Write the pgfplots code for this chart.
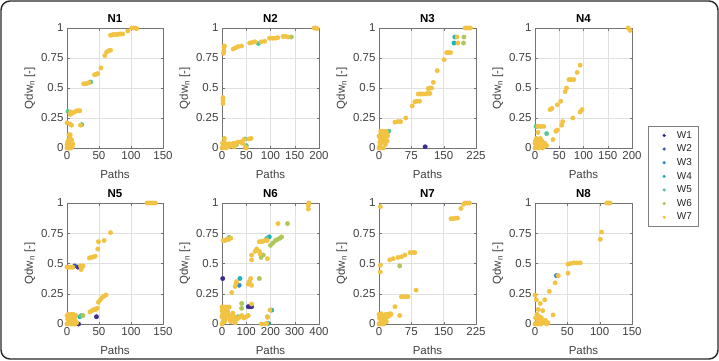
\documentclass[border=0pt]{standalone}
\usepackage{fontspec}
\setmainfont{Liberation Sans}
\usepackage{pgfplots}
\pgfplotsset{compat=1.18}
\definecolor{wA}{rgb}{0.24,0.18,0.55}
\definecolor{wB}{rgb}{0.20,0.35,0.75}
\definecolor{wC}{rgb}{0.20,0.55,0.82}
\definecolor{wD}{rgb}{0.10,0.70,0.75}
\definecolor{wE}{rgb}{0.35,0.78,0.60}
\definecolor{wF}{rgb}{0.68,0.78,0.35}
\definecolor{wG}{rgb}{0.95,0.76,0.26}
\pgfplotsset{
  panel/.style={
    scale only axis, anchor=south west,
    xmin=0, ymin=0, ymax=1,
    ytick={0,0.25,0.5,0.75,1},
    yticklabels={0,0.25,0.5,0.75,1},
    grid=major, grid style={black!12},
    axis line style={black!55},
    tick style={black!55},
    major tick length=2.5pt,
    tick align=inside,
    /pgf/number format/assume math mode=true,
    tick label style={font=\fontsize{11.5}{13}\selectfont, text=black!75},
    label style={font=\fontsize{11.5}{13}\selectfont, text=black!75},
    title style={font=\fontsize{11.5}{13}\selectfont\bfseries, yshift=-4pt},
    xlabel={Paths},
    ylabel={Qdw\textsubscript{n} [-]},
    xlabel style={yshift=-4pt},
    ylabel style={yshift=-1pt},
    clip=false,
  },
  wa/.style={only marks, mark=*, mark size=2.2pt, color=wA, forget plot},
  wb/.style={only marks, mark=*, mark size=2.2pt, color=wB, forget plot},
  wc/.style={only marks, mark=*, mark size=2.2pt, color=wC, forget plot},
  wd/.style={only marks, mark=*, mark size=2.2pt, color=wD, forget plot},
  we/.style={only marks, mark=*, mark size=2.2pt, color=wE, forget plot},
  wf/.style={only marks, mark=*, mark size=2.2pt, color=wF, forget plot},
  wg/.style={only marks, mark=*, mark size=2.2pt, color=wG, forget plot},
}
\begin{document}
\begin{tikzpicture}
\useasboundingbox (0,0) rectangle (719pt,360pt);
\draw[line width=1.4pt, rounded corners=9pt, black!85] (1pt,1pt) rectangle (718pt,359pt);

% ---------------- N1
\begin{axis}[panel, at={(67pt,212pt)}, width=96pt, height=120pt,
  title={N1}, xmax=150, xtick={0,50,100,150}]
\addplot[we] coordinates {(1.5,0.305) (23,0.195) (37,0.55)};
\addplot[wg] coordinates {
(0,0) (1,0.01) (2,0.02) (3,0.03) (4,0.04) (5,0.05) (6,0.06) (2,0.06) (4,0.0) (6,0.02) (8,0.01) (8,0.04) (1,0.05) (3,0.07) (5,0.08) (7,0.07) (9,0.03) (0,0.03) (3,0.0) (6,0.0)
(3,0.11) (5,0.11) (0,0.21) (5,0.2) (7,0.19)
(5,0.28) (8,0.29) (12,0.3) (15,0.31) (18,0.31) (20,0.31) (6,0.3)
(21,0.19)
(26,0.535) (29,0.535) (32,0.54) (34,0.545)
(43,0.61) (46,0.615) (48,0.62) (53,0.667) (59,0.77) (62,0.8) (65,0.81) (68,0.815)
(68,0.94) (72,0.945) (75,0.945) (78,0.945) (81,0.95) (84,0.95) (87,0.95) (95,0.975) (101,1) (104,1) (107,1) (109,0.995)};
\end{axis}

% ---------------- N2
\begin{axis}[panel, at={(222pt,212pt)}, width=97pt, height=120pt,
  title={N2}, xmax=200, xtick={0,50,100,150,200}]
\addplot[we] coordinates {(75,0.87) (47,0.075) (50,0.02)};
\addplot[wf] coordinates {(143,0.925) (30,0.03)};
\addplot[wg] coordinates {
(3,0.79) (4,0.81) (4,0.84) (5,0.85) (2,0.37) (2,0.40) (2,0.42)
(23,0.825) (28,0.835) (33,0.845) (40,0.85)
(57,0.875) (62,0.88) (68,0.885) (81,0.885) (88,0.89)
(98,0.915) (104,0.915) (110,0.915) (115,0.92) (126,0.93) (131,0.93) (136,0.925)
(190,1) (193,1) (196,0.995)
(0,0) (2,0.01) (4,0.02) (6,0.03) (8,0.0) (1,0.04) (3,0.035) (5,0.05) (10,0.02) (12,0.03) (15,0.035) (18,0.02) (20,0.03) (24,0.04) (28,0.04) (33,0.05) (38,0.05) (42,0.04) (5,0.08) (45,0.07) (55,0.075) (60,0.08) (50,0.0) (48,0.01) (14,0.01) (25,0.01)};
\end{axis}

% ---------------- N3
\begin{axis}[panel, at={(379pt,212pt)}, width=97pt, height=120pt,
  title={N3}, xmax=225, xtick={0,75,150,225}]
\addplot[wa] coordinates {(107,0.01)};
\addplot[wd] coordinates {(176,0.925) (174,0.875)};
\addplot[we] coordinates {(23,0.14)};
\addplot[wf] coordinates {(196,0.875) (197,0.925)};
\addplot[wg] coordinates {
(0,0) (2,0.02) (4,0.04) (6,0.06) (8,0.08) (10,0.1) (12,0.12) (14,0.13) (16,0.14) (18,0.12) (20,0.1) (3,0.08) (5,0.1) (7,0.12) (9,0.14) (11,0.05) (13,0.07) (15,0.09) (17,0.11) (2,0.05) (0,0.1) (1,0.0) (5,0.0) (10,0.0) (15,0.03) (19,0.06) (4,0.14)
(37,0.215) (44,0.22) (50,0.22) (62,0.25) (77,0.35) (83,0.385) (88,0.39) (94,0.39)
(91,0.45) (96,0.45) (102,0.45) (108,0.45) (113,0.455) (118,0.455)
(114,0.495) (118,0.5) (122,0.5) (126,0.547) (135,0.644) (151,0.736) (157,0.795) (161,0.795) (166,0.795) (181,0.925) (183,0.875)
(200,1) (204,1) (208,1) (212,1)};
\end{axis}

% ---------------- N4
\begin{axis}[panel, at={(535pt,212pt)}, width=97pt, height=120pt,
  title={N4}, xmax=200, xtick={0,50,100,150,200},
  legend style={at={(1.165,0.183)}, anchor=north west, draw=black!50,
    font=\fontsize{10}{12}\selectfont, text=black!85, row sep=1.2pt,
    inner xsep=4pt, inner ysep=3pt},
  legend cell align=left,
  legend image code/.code={\path[draw=none,fill=none] (0cm,0cm) -- (0.8cm,0cm); \draw[#1] plot coordinates {(0.42cm,0cm)};}]
\addlegendimage{only marks, mark=*, mark size=1.4pt, color=wA}\addlegendentry{W1}
\addlegendimage{only marks, mark=*, mark size=1.4pt, color=wB}\addlegendentry{W2}
\addlegendimage{only marks, mark=*, mark size=1.4pt, color=wC}\addlegendentry{W3}
\addlegendimage{only marks, mark=*, mark size=1.4pt, color=wD}\addlegendentry{W4}
\addlegendimage{only marks, mark=*, mark size=1.4pt, color=wE}\addlegendentry{W5}
\addlegendimage{only marks, mark=*, mark size=1.4pt, color=wF}\addlegendentry{W6}
\addlegendimage{only marks, mark=*, mark size=1.4pt, color=wG}\addlegendentry{W7}
\addplot[we] coordinates {(2,0.18) (24,0.12)};
\addplot[wg] coordinates {
(196,0.98) (192,1)
(93,0.69) (87,0.63) (70,0.57) (75,0.57) (80,0.57) (65,0.5) (62,0.47) (53,0.39) (46,0.36) (35,0.33) (31,0.32)
(97,0.32) (93,0.3) (78,0.25) (57,0.22) (55,0.19) (46,0.15) (43,0.14) (37,0.07)
(6,0.18) (12,0.18) (18,0.18) (6,0.13)
(0,0) (2,0.01) (4,0.03) (6,0.05) (8,0.07) (10,0.04) (12,0.02) (14,0.06) (16,0.03) (18,0.01) (20,0.04) (1,0.06) (3,0.08) (5,0.02) (7,0.0) (9,0.06) (11,0.08) (0,0.04) (15,0.0) (24,0.02)};
\end{axis}

% ---------------- N5
\begin{axis}[panel, at={(67pt,36pt)}, width=96pt, height=121pt,
  title={N5}, xmax=150, xtick={0,50,100,150}]
\addplot[wa] coordinates {(18,0.0) (46,0.06) (17,0.47)};
\addplot[wb] coordinates {(12,0.48)};
\addplot[wd] coordinates {(20,0.06)};
\addplot[we] coordinates {(22,0.07)};
\addplot[wf] coordinates {(25,0.07)};
\addplot[wg] coordinates {
(0,0) (2,0.01) (4,0.02) (6,0.03) (8,0.04) (10,0.05) (12,0.06) (14,0.07) (1,0.04) (3,0.06) (5,0.07) (7,0.08) (9,0.0) (11,0.02) (13,0.03) (15,0.01) (0,0.07) (2,0.08) (6,0.0) (10,0.08) (12,0.0) (4,0.05) (8,0.07)
(0,0.47) (3,0.47) (6,0.47) (9,0.47) (21,0.48) (23,0.47) (25,0.48) (22,0.45)
(36,0.1) (39,0.11) (42,0.12) (45,0.12) (47,0.13)
(49,0.18) (52,0.2) (55,0.22) (58,0.23) (61,0.24)
(35,0.545) (38,0.55) (41,0.555) (44,0.56) (48,0.62) (49,0.68) (58,0.69) (68,0.755)
(125,1) (128,1) (131,1) (134,1) (138,1)};
\end{axis}

% ---------------- N6
\begin{axis}[panel, at={(222pt,36pt)}, width=97pt, height=121pt,
  title={N6}, xmax=400, xtick={0,100,200,300,400}]
\addplot[wa] coordinates {(3,0.376) (108,0.143) (115,0.143) (122,0.143)};
\addplot[wc] coordinates {(71,0.32)};
\addplot[wd] coordinates {(74,0.376) (195,0.72) (205,0.115) (191,0.005)};
\addplot[we] coordinates {(30,0.715) (67,0.06) (184,0.706)};
\addplot[wf] coordinates {(81,0.13) (81,0.17) (154,0.376) (170,0.57) (161,0.55) (270,0.83) (187,0.06)
(200,0.65) (210,0.67) (220,0.69) (230,0.7) (240,0.71) (246,0.72)};
\addplot[wg] coordinates {
(0,0) (3,0.01) (6,0.03) (9,0.05) (12,0.07) (15,0.09) (18,0.11) (21,0.12) (24,0.1) (27,0.08) (30,0.06) (33,0.04) (36,0.02) (39,0.05) (42,0.07) (45,0.09) (48,0.03) (51,0.06) (54,0.01) (2,0.08) (5,0.12) (8,0.1) (11,0.02) (14,0.04) (0,0.06) (0,0.11)
(0,0.14) (8,0.14) (16,0.14) (24,0.14) (30,0.14)
(5,0.69) (12,0.69) (20,0.7) (28,0.7) (36,0.71) (40,0.26)
(54,0.31) (58,0.335) (60,0.35)
(62,0.04) (68,0.05) (75,0.06) (82,0.07) (90,0.05) (100,0.06) (108,0.07)
(108,0.33) (113,0.35) (118,0.376) (122,0.32) (122,0.165)
(122,0.53) (122,0.57) (136,0.6) (143,0.62) (154,0.6) (157,0.58) (187,0.54)
(154,0.68) (162,0.68) (170,0.685) (178,0.69) (186,0.69)
(231,0.83) (356,0.95) (356,0.98) (358,1)
(198,0.115) (188,0.055) (184,0.005) (163,0) (177,0)};
\end{axis}

% ---------------- N7
\begin{axis}[panel, at={(379pt,36pt)}, width=97pt, height=121pt,
  title={N7}, xmax=225, xtick={0,75,150,225}]
\addplot[wf] coordinates {(48,0.48)};
\addplot[wg] coordinates {
(3,0.97) (3,0.486) (3,0.43)
(0,0) (2,0.01) (4,0.02) (6,0.03) (8,0.04) (10,0.05) (12,0.06) (14,0.07) (16,0.08) (18,0.07) (20,0.06) (22,0.08) (24,0.07) (26,0.085) (28,0.08) (1,0.05) (3,0.07) (5,0.085) (7,0.06) (9,0.02) (11,0.0) (13,0.03) (15,0.045) (17,0.02) (0,0.08) (6,0.0)
(25,0.53) (33,0.54) (44,0.55) (52,0.555) (60,0.57) (72,0.59) (79,0.59) (83,0.59)
(52,0.225) (57,0.225) (62,0.225) (67,0.225) (86,0.28) (37,0.143) (48,0.07)
(167,0.87) (172,0.87) (177,0.875) (182,0.875) (190,0.955) (196,0.99) (200,1) (205,1) (210,1)};
\end{axis}

% ---------------- N8
\begin{axis}[panel, at={(535pt,36pt)}, width=97pt, height=121pt,
  title={N8}, xmax=150, xtick={0,50,100,150}]
\addplot[wc] coordinates {(33,0.4)};
\addplot[wg] coordinates {
(111,1) (114,1) (116,1) (103,0.76) (101,0.7)
(51,0.495) (55,0.5) (60,0.505) (65,0.505) (70,0.505) (51,0.42) (36,0.4) (31,0.34) (22,0.27) (15,0.2) (28,0.075)
(0,0.24) (2,0.2) (5,0.12) (8,0.17) (3,0.08) (12,0.11)
(0,0) (2,0.01) (4,0.02) (6,0.03) (8,0.04) (10,0.05) (12,0.02) (14,0.01) (16,0.03) (18,0.0) (20,0.01) (1,0.05) (3,0.06) (5,0.0) (7,0.06) (9,0.0)};
\end{axis}
\end{tikzpicture}
\end{document}
